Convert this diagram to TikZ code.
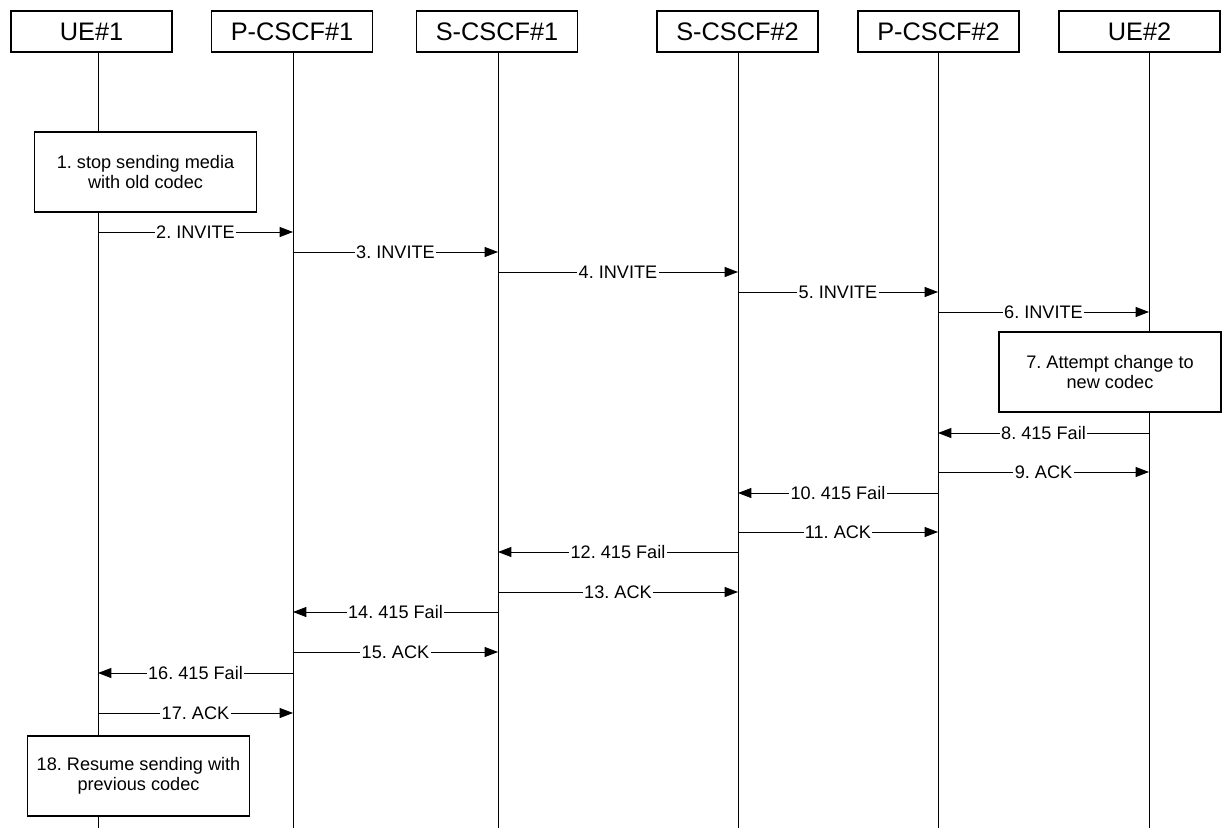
\documentclass[tikz,border=0pt]{standalone}
\usepackage{fontspec}
\setmainfont{Liberation Sans}
\usetikzlibrary{arrows.meta}
\frenchspacing
\begin{document}
\begin{tikzpicture}[x=0.75pt,y=-0.75pt,
    every node/.append style={font=\fontsize{13.6}{15}\selectfont},
    entity/.style={draw,line width=0.8pt,fill=white,inner sep=0pt,
        minimum width=120.75pt,minimum height=30.75pt,font=\fontsize{19}{22}\selectfont},
    actbox/.style={draw,line width=0.8pt,fill=white,inner sep=0pt,align=center,
        minimum width=166.5pt,minimum height=60pt},
    msg/.style={line width=0.6pt,-{Triangle[length=10pt,width=7.5pt]}},
    lbl/.style={fill=white,inner sep=1pt}]
    \useasboundingbox (0,0) rectangle (1222,828);
    \foreach \n/\x in {ue1/98,pcscf1/293,scscf1/498,scscf2/738,pcscf2/938,ue2/1149} {
        \coordinate (\n-top) at (\x,52);
        \coordinate (\n-bot) at (\x,828);
        \draw [line width=0.75pt] (\n-top) -- (\n-bot);
    }
    \node [entity] (ue1) at (91.5,31.5) {UE\#1};
    \node [entity] (pcscf1) at (292,31.5) {P-CSCF\#1};
    \node [entity] (scscf1) at (497,31.5) {S-CSCF\#1};
    \node [entity] (scscf2) at (737.5,31.5) {S-CSCF\#2};
    \node [entity] (pcscf2) at (938.5,31.5) {P-CSCF\#2};
    \node [entity] (ue2) at (1139.5,31.5) {UE\#2};
    \node [actbox] (stop) at (145.5,172) {1. stop sending media\\with old codec};
    \node [actbox] (attempt) at (1110,372) {7. Attempt change to\\new codec};
    \node [actbox] (resume) at (138.5,776) {18. Resume sending with\\previous codec};
    \foreach \a/\b/\y/\t in {ue1/pcscf1/232/2. INVITE,
        pcscf1/scscf1/252/3. INVITE,
        scscf1/scscf2/272/4. INVITE,
        scscf2/pcscf2/292/5. INVITE,
        pcscf2/ue2/312/6. INVITE,
        ue2/pcscf2/433/8. 415 Fail,
        pcscf2/ue2/472/9. ACK,
        pcscf2/scscf2/493/10. 415 Fail,
        scscf2/pcscf2/532/11. ACK,
        scscf2/scscf1/552/12. 415 Fail,
        scscf1/scscf2/592/13. ACK,
        scscf1/pcscf1/612/14. 415 Fail,
        pcscf1/scscf1/652/15. ACK,
        pcscf1/ue1/673/16. 415 Fail,
        ue1/pcscf1/713/17. ACK} {
        \draw [msg] (\a-top |- 0,\y) -- node [lbl] {\t} (\b-top |- 0,\y);
    }
\end{tikzpicture}
\end{document}
